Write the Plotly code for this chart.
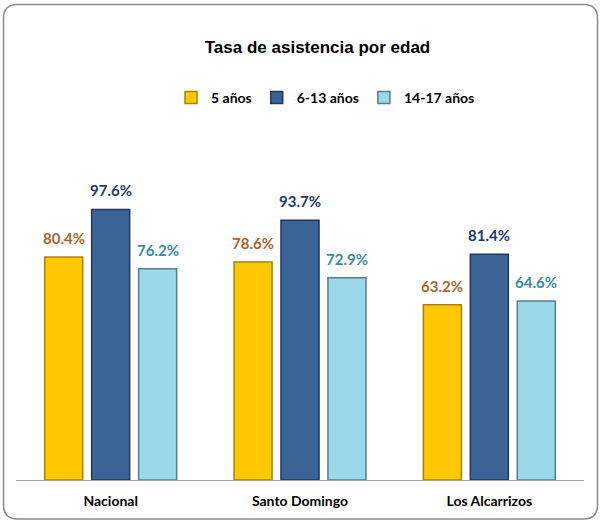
import plotly.graph_objects as go

# datos
categorias = ["Nacional", "Santo Domingo", "Los Alcarrizos"]
series = ["5 años", "6-13 años", "14-17 años"]
valores_5 = [80.4, 78.6, 63.2]
valores_6_13 = [97.6, 93.7, 81.4]
valores_14_17 = [76.2, 72.9, 64.6]

colores_barra = ["#FFC800", "#3A6496", "#9AD8EA"]
colores_borde = ["#A8820A", "#1F3A5C", "#557F8C"]
colores_texto = ["#B0622A", "#1F3A6E", "#3A8CA5"]

fuente = "Lato, Carlito, sans-serif"

# geometría (px)
W, H = 600, 521
l, r, t, b = 16, 16, 175, 41
w_plot = W - l - r
h_plot = H - t - b
bargap, bargroupgap = 0.256, 0.19

fig = go.Figure()

for nombre, vals, c, bc in zip(series, [valores_5, valores_6_13, valores_14_17],
                               colores_barra, colores_borde):
    fig.add_trace(go.Bar(
        x=categorias, y=vals, name=nombre,
        marker=dict(color=c, line=dict(color=bc, width=1.5)),
    ))

# etiquetas de datos
slot = w_plot / len(categorias) * (1 - bargap) / 3
for i, (vals, ct) in enumerate(zip([valores_5, valores_6_13, valores_14_17], colores_texto)):
    for cat, v in zip(categorias, vals):
        fig.add_annotation(
            x=cat, y=v, text=f"<b>{v:.1f}%</b>", showarrow=False,
            xshift=(i - 1) * slot, yshift=8, yanchor="bottom",
            font=dict(family=fuente, size=15, color=ct),
        )


def px(xp):
    return (xp - l) / w_plot


def py(yp):
    return (H - b - yp) / h_plot


# marco redondeado
x0, x1, y0, y1 = px(3.5), px(597.5), py(4.5), py(519)
rx, ry = 14 / w_plot, 14 / h_plot
path = (f"M {x0+rx} {y0} L {x1-rx} {y0} Q {x1} {y0} {x1} {y0-ry} "
        f"L {x1} {y1+ry} Q {x1} {y1} {x1-rx} {y1} L {x0+rx} {y1} "
        f"Q {x0} {y1} {x0} {y1+ry} L {x0} {y0-ry} Q {x0} {y0} {x0+rx} {y0} Z")
fig.add_shape(type="path", path=path, xref="paper", yref="paper",
              line=dict(color="#8C8C8C", width=1.5), layer="below")

fig.update_layout(
    width=W, height=H,
    margin=dict(l=l, r=r, t=t, b=b),
    paper_bgcolor="white", plot_bgcolor="white",
    barmode="group", bargap=bargap, bargroupgap=bargroupgap,
    title=dict(text="<b>Tasa de asistencia por edad</b>", x=px(317.5), xref="paper",
               xanchor="center", y=1 - 47 / H, yanchor="middle",
               font=dict(family="Liberation Sans, Arial, sans-serif", size=17, color="black")),
    legend=dict(orientation="h", x=px(171), xanchor="left", y=py(98), yanchor="middle",
                font=dict(family=fuente, size=14, color="black", weight="bold"),
                bgcolor="rgba(0,0,0,0)"),
    xaxis=dict(showline=True, linecolor="#A6A6A6", linewidth=1, ticks="",
               ticklabelstandoff=8,
               tickfont=dict(family=fuente, size=14, color="black", weight="bold")),
    yaxis=dict(range=[0, 110], visible=False, showgrid=False),
    showlegend=True,
)

fig.write_html("out.html", config={"displayModeBar": False},
               post_script="document.body.style.margin='0px';")
